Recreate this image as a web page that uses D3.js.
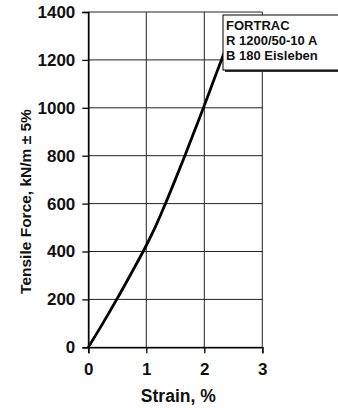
<!DOCTYPE html>
<html><head><meta charset="utf-8">
<script src="https://cdn.jsdelivr.net/npm/d3@7"></script>
<style>body{margin:0;background:#fff}svg{display:block}text{font-family:"Liberation Sans",Arial,sans-serif;font-weight:bold;fill:#111}</style>
</head><body><svg id="c" width="338" height="408"></svg>
<script>
const strain = [0,0.25,0.49,0.72,0.945,1.15,1.33,1.50,1.665,1.825,1.985,2.14,2.295,2.45];
const force  = [0,100,200,300,400,500,600,700,800,900,1000,1100,1200,1300];
const xTicks = [0,1,2,3];
const yTicks = [0,200,400,600,800,1000,1200,1400];
const legendLines = ["FORTRAC","R 1200/50-10 A","B 180 Eisleben"];
const xTitle = "Strain, %";
const yTitle = "Tensile Force, kN/m \u00B1 5%";

const svg = d3.select("#c");
const x = d3.scaleLinear().domain([0,3]).range([88.3,262.3]);
const y = d3.scaleLinear().domain([0,1400]).range([347.3,12]);

const g = svg.append("g");
g.selectAll(".hg").data(yTicks).join("line")
 .attr("x1",x(0)).attr("x2",x(3)).attr("y1",d=>y(d)).attr("y2",d=>y(d))
 .attr("stroke","#222").attr("stroke-width",1);
g.selectAll(".vg").data(xTicks).join("line")
 .attr("y1",y(0)).attr("y2",y(1400)).attr("x1",d=>x(d)).attr("x2",d=>x(d))
 .attr("stroke","#222").attr("stroke-width",1);

const ya = svg.append("g").attr("transform",`translate(${x(0)},0)`)
 .call(d3.axisLeft(y).tickValues(yTicks).tickSize(6).tickPadding(7).tickFormat(d3.format("d")));
const xa = svg.append("g").attr("transform",`translate(0,${y(0)})`)
 .call(d3.axisBottom(x).tickValues(xTicks).tickSize(6).tickPadding(10).tickFormat(d3.format("d")));
[ya,xa].forEach(a=>{
  a.select(".domain").attr("stroke","#000").attr("stroke-width",1.5);
  a.selectAll(".tick line").attr("stroke","#000").attr("stroke-width",1.3);
  a.selectAll("text").style("font-size","17px").style("font-family","'Liberation Sans',Arial,sans-serif").style("font-weight","bold").attr("fill","#111");
});

svg.append("path").datum(strain.map((s,i)=>[s,force[i]]))
 .attr("d",d3.line().x(d=>x(d[0])).y(d=>y(d[1])).curve(d3.curveCatmullRom))
 .attr("fill","none").attr("stroke","#000").attr("stroke-width",2.8);

const lg = svg.append("g");
lg.append("rect").attr("x",225).attr("y",17).attr("width",130).attr("height",55).attr("fill","#333");
lg.append("rect").attr("x",223).attr("y",15).attr("width",130).attr("height",55).attr("fill","#fff").attr("stroke","#000").attr("stroke-width",1);
lg.selectAll("text").data(legendLines).join("text")
 .attr("x",226).attr("y",(d,i)=>29.5+i*15).style("font-size","13px").text(d=>d);

svg.append("text").attr("x",x(1.5)+3).attr("y",402).attr("text-anchor","middle").style("font-size","17.5px").text(xTitle);
svg.append("text").attr("transform","translate(31,201.5) rotate(-90)").attr("text-anchor","middle").style("font-size","15.5px").text(yTitle);
</script></body></html>
